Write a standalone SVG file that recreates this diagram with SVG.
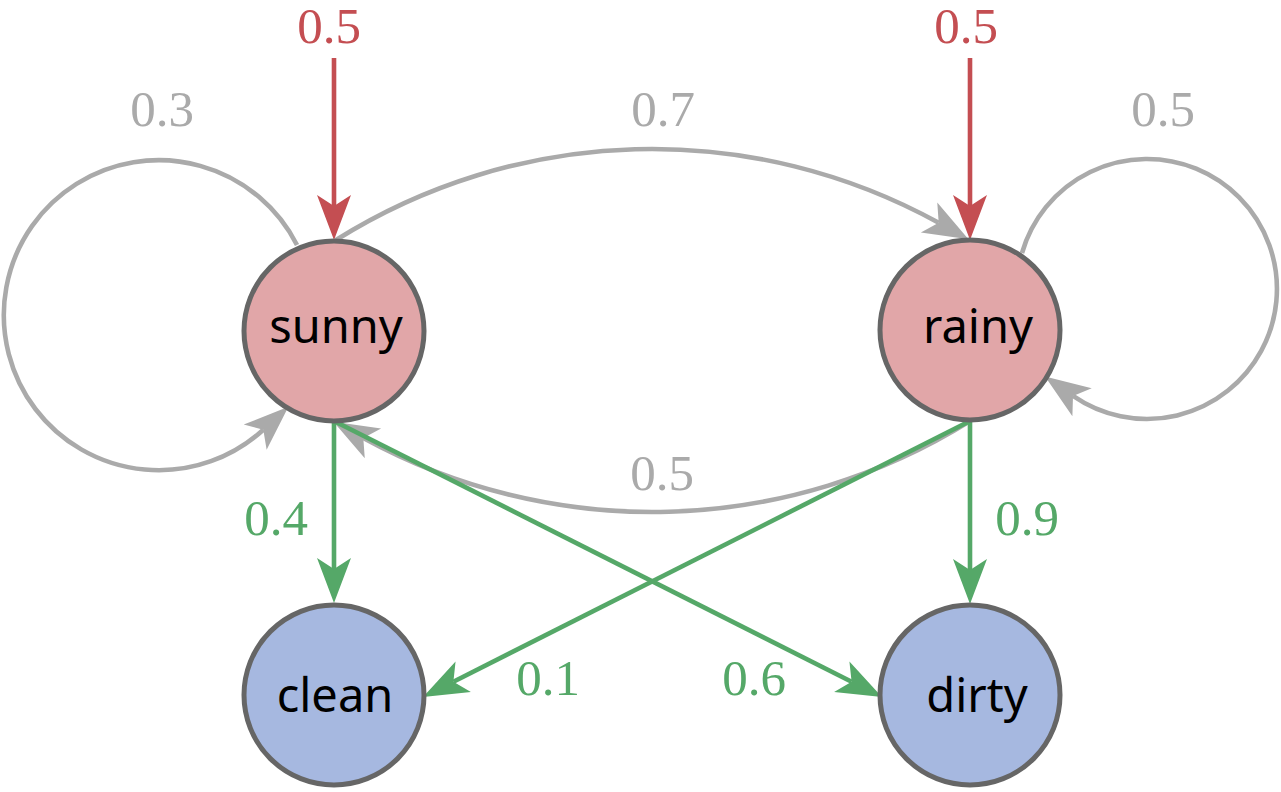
<svg xmlns="http://www.w3.org/2000/svg" width="1281" height="792" viewBox="0 0 1281 792">
  <style>
    .node { stroke: #666666; stroke-width: 5; }
    .hid { fill: #E1A6A8; }
    .obs { fill: #A6B8E0; }
    .nlabel { font-family: "Noto Sans", "Open Sans", sans-serif; font-size: 47px; fill: #000; text-anchor: middle; }
    .elabel { font-family: "Liberation Serif", "DejaVu Serif", serif; font-size: 51px; text-anchor: middle; }
    .gray { stroke: #AAAAAA; }
    .red { stroke: #C44E52; }
    .green { stroke: #55A868; }
    .edge { fill: none; stroke-width: 4.6; stroke-linecap: butt; }
    .tg { fill: #AAAAAA; }
    .tr { fill: #C44E52; }
    .tgr { fill: #55A868; }
  </style>
  <defs>
    <marker id="ah-gray" markerUnits="userSpaceOnUse" markerWidth="50" markerHeight="40" viewBox="-50 -20 50 40" refX="-34" refY="0" orient="auto" overflow="visible">
      <path d="M0,0 L-45,-17 L-34,0 L-45,17 Z" fill="#AAAAAA"/>
    </marker>
    <marker id="ah-red" markerUnits="userSpaceOnUse" markerWidth="50" markerHeight="40" viewBox="-50 -20 50 40" refX="-34" refY="0" orient="auto" overflow="visible">
      <path d="M0,0 L-45,-17 L-34,0 L-45,17 Z" fill="#C44E52"/>
    </marker>
    <marker id="ah-green" markerUnits="userSpaceOnUse" markerWidth="50" markerHeight="40" viewBox="-50 -20 50 40" refX="-34" refY="0" orient="auto" overflow="visible">
      <path d="M0,0 L-45,-17 L-34,0 L-45,17 Z" fill="#55A868"/>
    </marker>
  </defs>

  <rect width="1281" height="792" fill="#FFFFFF"/>

  <g id="connectors">
    <path class="edge gray" d="M297,245 A155,155 0 1 0 263.3,429.7" marker-end="url(#ah-gray)"/>
    <path class="edge gray" d="M1022,253 A130,130 0 1 1 1073,395.9" marker-end="url(#ah-gray)"/>
    <path class="edge gray" d="M336,240 A594,594 0 0 1 938.7,222.8" marker-end="url(#ah-gray)"/>
    <path class="edge gray" d="M970,421 A601,601 0 0 1 363.3,438.1" marker-end="url(#ah-gray)"/>
    <path class="edge red" d="M334,58 L334,206" marker-end="url(#ah-red)"/>
    <path class="edge red" d="M970,58 L970,206" marker-end="url(#ah-red)"/>
    <path class="edge green" d="M334,421 L334,569" marker-end="url(#ah-green)"/>
    <path class="edge green" d="M970,421 L970,570" marker-end="url(#ah-green)"/>
    <path class="edge green" d="M334,421 L851.6,681.7" marker-end="url(#ah-green)"/>
    <path class="edge green" d="M970,421 L453.4,681.7" marker-end="url(#ah-green)"/>
  </g>

  <g id="edge-labels">
    <text class="elabel tr" x="329" y="43">0.5</text>
    <text class="elabel tr" x="966" y="43">0.5</text>
    <text class="elabel tg" x="162" y="126">0.3</text>
    <text class="elabel tg" x="663" y="126">0.7</text>
    <text class="elabel tg" x="1163" y="126">0.5</text>
    <text class="elabel tg" x="662" y="490">0.5</text>
    <text class="elabel tgr" x="276" y="535">0.4</text>
    <text class="elabel tgr" x="1027" y="535">0.9</text>
    <text class="elabel tgr" x="548" y="695">0.1</text>
    <text class="elabel tgr" x="754" y="695">0.6</text>
  </g>

  <g id="node-sunny">
    <circle class="node hid" cx="334" cy="331" r="90"/>
    <text class="nlabel" x="336" y="343">sunny</text>
  </g>
  <g id="node-rainy">
    <circle class="node hid" cx="970" cy="330" r="90"/>
    <text class="nlabel" x="978" y="343">rainy</text>
  </g>
  <g id="node-clean">
    <circle class="node obs" cx="334" cy="695" r="90"/>
    <text class="nlabel" x="335" y="712">clean</text>
  </g>
  <g id="node-dirty">
    <circle class="node obs" cx="970" cy="695" r="90"/>
    <text class="nlabel" x="977" y="712">dirty</text>
  </g>
</svg>
